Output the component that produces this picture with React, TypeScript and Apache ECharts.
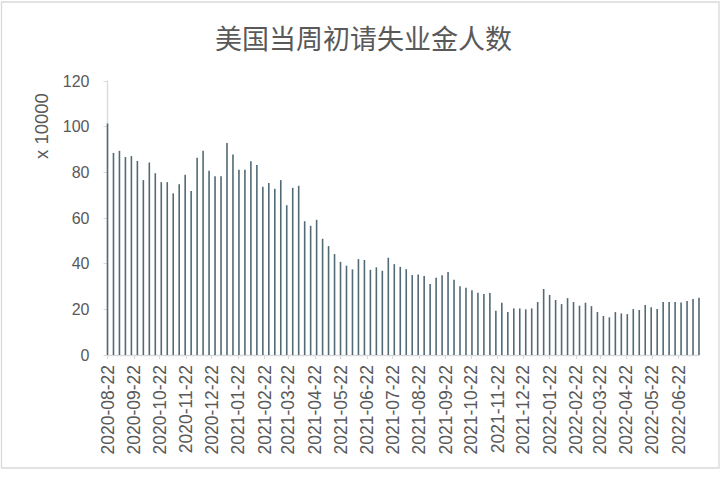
import { useEffect, useRef } from 'react'
import * as echarts from 'echarts'

// weekly initial claims, x 10000, week 0 = 2020-08-22
const firstWeek = '2020-08-22'
const weeklyClaims = [
  101.4, 88.5, 89.4, 86.7, 87.1, 85.0, 76.6, 84.3, 79.6, 75.7,
  75.7, 70.8, 74.8, 78.9, 71.8, 86.4, 89.4, 80.7, 78.3, 78.3,
  92.9, 87.8, 81.1, 81.1, 84.9, 83.2, 73.7, 75.3, 72.8, 76.6,
  65.6, 73.2, 74.1, 58.6, 56.6, 59.2, 50.9, 47.7, 44.2, 40.8,
  39.1, 37.5, 42.0, 41.6, 37.3, 38.4, 36.9, 42.6, 39.8, 38.6,
  37.6, 35.0, 35.3, 34.6, 31.1, 33.8, 34.9, 36.3, 33.0, 30.1,
  29.5, 28.4, 27.3, 26.7, 27.1, 19.4, 22.9, 18.8, 20.4, 20.4,
  20.0, 20.4, 23.2, 28.9, 26.3, 24.1, 22.3, 24.9, 23.2, 21.6,
  22.9, 21.4, 18.8, 17.1, 16.5, 18.8, 18.2, 17.9, 20.1, 19.7,
  21.9, 20.9, 20.1, 23.2, 23.2, 23.2, 23.0, 23.6, 24.5, 25.1,
]
const monthLabels = [
  '2020-08-22', '2020-09-22', '2020-10-22', '2020-11-22', '2020-12-22',
  '2021-01-22', '2021-02-22', '2021-03-22', '2021-04-22', '2021-05-22',
  '2021-06-22', '2021-07-22', '2021-08-22', '2021-09-22', '2021-10-22',
  '2021-11-22', '2021-12-22', '2022-01-22', '2022-02-22', '2022-03-22',
  '2022-04-22', '2022-05-22', '2022-06-22',
]
const yTicks = [0, 20, 40, 60, 80, 100, 120]

const TEXT = '#595959'
const LINE = '#D9D9D9'
const BAR = '#526A76'

// daily date axis, like Excel's date axis
function buildDays(start: string, count: number) {
  const t0 = Date.parse(start + 'T00:00:00Z')
  const out: string[] = []
  for (let i = 0; i < count; i++) {
    out.push(new Date(t0 + i * 86400000).toISOString().slice(0, 10))
  }
  return out
}

export default function App() {
  const ref = useRef<HTMLDivElement>(null)

  useEffect(() => {
    if (!ref.current) return
    const chart = echarts.init(ref.current, undefined, { renderer: 'svg' })

    const days = buildDays(firstWeek, (weeklyClaims.length - 1) * 7 + 1)
    const values: (number | null)[] = days.map(() => null)
    weeklyClaims.forEach((v, i) => {
      values[i * 7] = v
    })
    const shown = new Set(monthLabels)
    const isMonth = (_i: number, d: string) => shown.has(d)

    chart.setOption({
      animation: false,
      textStyle: { fontFamily: 'Liberation Sans, Arial, sans-serif' },
      title: {
        text: '美国当周初请失业金人数',
        left: 'center',
        top: 19,
        textStyle: {
          fontSize: 27,
          color: TEXT,
          fontWeight: 'normal',
          fontFamily: 'Noto Sans CJK SC',
        },
      },
      grid: { left: 107.5, right: 28, top: 81, bottom: 125 },
      xAxis: {
        type: 'category',
        data: days,
        boundaryGap: false,
        axisLine: { lineStyle: { color: LINE, width: 1.3 } },
        axisTick: { show: true, interval: isMonth, length: 4, lineStyle: { color: LINE } },
        axisLabel: {
          interval: isMonth,
          rotate: 90,
          margin: 10,
          fontSize: 17.5,
          color: TEXT,
        },
        splitLine: { show: false },
      },
      yAxis: {
        type: 'value',
        min: yTicks[0],
        max: yTicks[yTicks.length - 1],
        interval: yTicks[1] - yTicks[0],
        axisLine: { show: true, lineStyle: { color: LINE, width: 1.3 } },
        axisTick: { show: true, length: 4, lineStyle: { color: LINE } },
        axisLabel: { fontSize: 16, color: TEXT, margin: 18 },
        splitLine: { show: false },
      },
      series: [
        {
          type: 'bar',
          data: values,
          barWidth: 1.6,
          clip: false,
          itemStyle: { color: BAR },
        },
      ],
      graphic: [
        {
          type: 'rect',
          shape: { x: 1.5, y: 2, width: 717.5, height: 466 },
          style: { fill: 'none', stroke: LINE, lineWidth: 1.3 },
          silent: true,
        },
        {
          type: 'text',
          x: 41,
          y: 126,
          rotation: Math.PI / 2,
          style: {
            text: 'x 10000',
            fontSize: 18.5,
            fill: TEXT,
            align: 'center',
            verticalAlign: 'middle',
            fontFamily: 'Liberation Sans, Arial, sans-serif',
          },
        },
      ],
    })

    return () => chart.dispose()
  }, [])

  return (
    <div
      ref={ref}
      style={{ position: 'fixed', left: 0, top: 0, width: 727, height: 480, background: '#fff' }}
    />
  )
}
